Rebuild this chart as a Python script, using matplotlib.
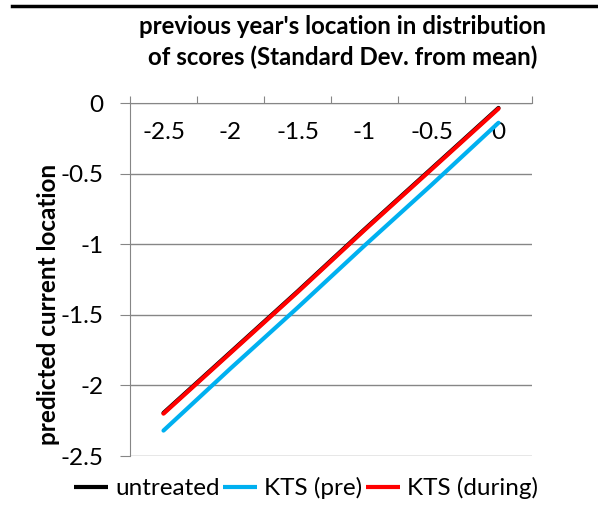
import matplotlib
matplotlib.use("Agg")
import matplotlib.pyplot as plt
from matplotlib.lines import Line2D

categories = ["-2.5", "-2", "-1.5", "-1", "-0.5", "0"]
untreated = [-2.195, -1.765, -1.335, -0.895, -0.465, -0.035]
kts_pre = [-2.32, -1.88, -1.45, -1.01, -0.58, -0.14]
kts_during = [-2.20, -1.77, -1.34, -0.90, -0.47, -0.04]
y_ticks = [0, -0.5, -1, -1.5, -2, -2.5]
y_labels = ["0", "-0.5", "-1", "-1.5", "-2", "-2.5"]
series_names = ["untreated", "KTS (pre)", "KTS (during)"]
colors = ["#000000", "#00B0F0", "#FF0000"]

plt.rcParams['font.family'] = ['Lato', 'DejaVu Sans']
FS = 17.5

fig = plt.figure(figsize=(5.98, 5.24), dpi=100)
ax = fig.add_axes([130/598, 1-456/524, (532-130)/598, (456-103)/524])

x = list(range(len(categories)))
for vals, c, name in zip([untreated, kts_pre, kts_during], colors, series_names):
    ax.plot(x, vals, color=c, lw=3, solid_capstyle='round', label=name)

ax.set_xlim(-0.5, len(categories) - 0.5)
ax.set_ylim(-2.5, 0)
ax.set_yticks(y_ticks)
ax.set_yticklabels(y_labels, fontsize=FS)
ax.yaxis.grid(True, color='#868686', lw=1)
ax.set_axisbelow(True)

# x axis on top, category boundaries as ticks, labels at centers inside plot
ax.xaxis.set_ticks_position('top')
ax.set_xticks([i - 0.5 for i in range(len(categories) + 1)])
ax.set_xticklabels([])
ax.set_xticks(x, minor=True)
ax.set_xticklabels(categories, minor=True, fontsize=FS)
ax.tick_params(axis='x', which='major', length=5, color='#868686', direction='out')
ax.tick_params(axis='x', which='minor', length=0, labeltop=True, labelbottom=False, pad=-29)
ax.tick_params(axis='y', length=7, color='#868686', pad=12)

for s in ['right', 'bottom']:
    ax.spines[s].set_visible(False)
ax.spines['top'].set_color('#868686')
ax.spines['left'].set_color('#868686')

fig.text(343/598, 1-42/524, "previous year's location in distribution\nof scores (Standard Dev. from mean)",
         ha='center', va='center', fontsize=17.3, fontweight='bold', linespacing=1.4)
fig.text(49/598, 1-304/524, "predicted current location", rotation=90,
         ha='center', va='center', fontsize=FS, fontweight='bold')

fig.add_artist(Line2D([12/598, 1], [1-6/524, 1-6/524], color='black', lw=2.5, transform=fig.transFigure))

handles = [Line2D([], [], color=c, lw=3, solid_capstyle='butt') for c in colors]
fig.legend(handles, series_names, loc='center', bbox_to_anchor=(306/598, 1-488/524),
           ncol=3, frameon=False, fontsize=FS, handlelength=1.4, handletextpad=0.3,
           columnspacing=0.15)

fig.savefig("out.png", dpi=100)
